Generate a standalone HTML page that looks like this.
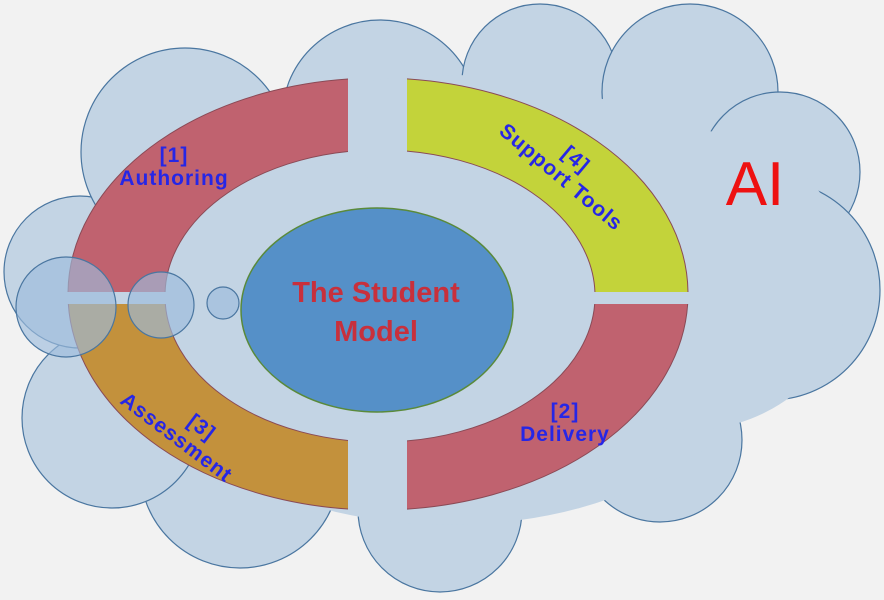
<!DOCTYPE html>
<html><head><meta charset="utf-8"><style>
html,body{margin:0;padding:0;background:#f2f2f2;width:884px;height:600px;overflow:hidden}
svg{display:block}
.lb{font-family:"Liberation Sans",sans-serif;font-weight:bold;font-size:21px;letter-spacing:1px;fill:#2626e6;text-anchor:middle}
</style></head><body>
<svg width="884" height="600" viewBox="0 0 884 600">
<rect width="884" height="600" fill="#f2f2f2"/>
<g fill="#c3d4e4" stroke="#4a76a0" stroke-width="1.2">
<circle cx="380" cy="118" r="98"/>
<circle cx="540" cy="82" r="78"/>
<circle cx="690" cy="92" r="88"/>
<circle cx="780" cy="172" r="80"/>
<circle cx="770" cy="290" r="110"/>
<circle cx="660" cy="440" r="82"/>
<circle cx="440" cy="510" r="82"/>
<circle cx="240" cy="468" r="100"/>
<circle cx="112" cy="418" r="90"/>
<circle cx="80" cy="272" r="76"/>
<circle cx="185" cy="152" r="104"/>
</g>
<g fill="#c3d4e4">
<ellipse cx="450" cy="300" rx="340" ry="225"/>
<ellipse cx="250" cy="300" rx="170" ry="170"/>
<ellipse cx="690" cy="280" rx="160" ry="150"/>
</g>
<defs>
<path id="ring" fill-rule="evenodd" d="M68,294 a310,216 0 1,0 620,0 a310,216 0 1,0 -620,0 Z M165,296 a215,146 0 1,0 430,0 a215,146 0 1,0 -430,0 Z"/>
<clipPath id="tl"><rect x="0" y="0" width="348" height="292"/></clipPath>
<clipPath id="tr"><rect x="407" y="0" width="400" height="292"/></clipPath>
<clipPath id="br"><rect x="407" y="304" width="400" height="300"/></clipPath>
<clipPath id="bl"><rect x="0" y="304" width="348" height="300"/></clipPath>
</defs>
<g stroke="#8a4a56" stroke-width="1">
<use href="#ring" clip-path="url(#tl)" fill="#c0626f"/>
<use href="#ring" clip-path="url(#tr)" fill="#c3d33a"/>
<use href="#ring" clip-path="url(#br)" fill="#c0626f"/>
<use href="#ring" clip-path="url(#bl)" fill="#c3913c"/>
</g>
<ellipse cx="377" cy="310" rx="136" ry="102" fill="#5590c8" stroke="#5a8a3a" stroke-width="1.5"/>
<g fill="#9dbcdc" fill-opacity="0.65" stroke="#4a76a0" stroke-width="1.2">
<circle cx="66" cy="307" r="50"/>
<circle cx="161" cy="305" r="33"/>
<circle cx="223" cy="303" r="16"/>
</g>
<g font-family="Liberation Sans,sans-serif" font-weight="bold" font-size="29" fill="#c8303c" text-anchor="middle">
<text x="376" y="302">The Student</text>
<text x="376" y="341">Model</text>
</g>
<text class="lb" x="174" y="162">[1]</text>
<text class="lb" x="174" y="185">Authoring</text>
<text class="lb" x="565" y="418">[2]</text>
<text class="lb" x="565" y="441">Delivery</text>
<g transform="translate(182,430) rotate(37)">
<text class="lb" x="14" y="-7">[3]</text>
<text class="lb" x="0" y="16">Assessment</text>
</g>
<g transform="translate(567,170) rotate(40)">
<text class="lb" x="0" y="-7">[4]</text>
<text class="lb" x="0" y="16">Support Tools</text>
</g>
<text x="755" y="205" font-family="Liberation Sans,sans-serif" font-size="62" fill="#ee1111" text-anchor="middle">AI</text>
</svg>
</body></html>
